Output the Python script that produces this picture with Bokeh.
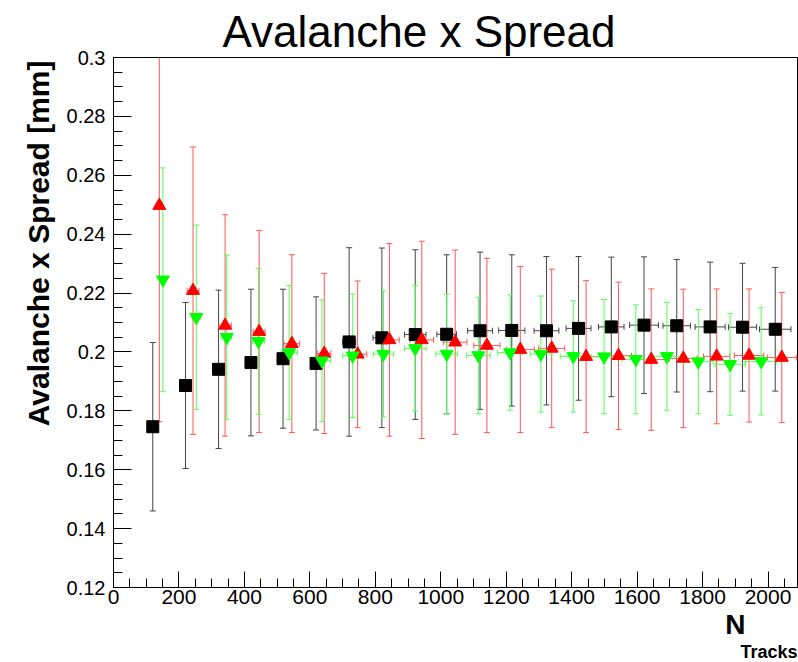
import math
from bokeh.plotting import figure
from bokeh.models import (ColumnDataSource, Whisker, TeeHead, Range1d, Title,
                          SingleIntervalTicker, NumeralTickFormatter)
from bokeh.embed import file_html
from bokeh.resources import INLINE

# ---- data ----
black_x = [120, 220, 321, 420, 518, 619, 720, 820, 922, 1018, 1120, 1217, 1323, 1421, 1521, 1621, 1721, 1823, 1922, 2022]
black_y = [0.1746, 0.1886, 0.1941, 0.1964, 0.1977, 0.1961, 0.2034, 0.2048, 0.2059, 0.2060, 0.2072, 0.2073, 0.2072, 0.2080, 0.2085, 0.2091, 0.2089, 0.2085, 0.2084, 0.2077]
black_ey = [0.0286, 0.0282, 0.0269, 0.0249, 0.0236, 0.0226, 0.0320, 0.0305, 0.0288, 0.0270, 0.0267, 0.0257, 0.0252, 0.0244, 0.0237, 0.0232, 0.0225, 0.0220, 0.0217, 0.0210]
black_ex = [5, 8, 10, 12, 14, 17, 20, 27, 33, 30, 38, 40, 38, 38, 39, 44, 42, 46, 43, 48]

red_x = [140, 243, 341, 445, 545, 644, 746, 843, 942, 1044, 1141, 1243, 1339, 1444, 1543, 1643, 1741, 1843, 1942, 2042]
red_y = [0.2497, 0.2208, 0.2090, 0.2069, 0.2028, 0.1995, 0.1992, 0.2041, 0.2041, 0.2033, 0.2022, 0.2008, 0.2012, 0.1984, 0.1987, 0.1974, 0.1978, 0.1985, 0.1988, 0.1981]
red_ey = [0.0734, 0.0488, 0.0376, 0.0343, 0.0302, 0.0272, 0.0249, 0.0327, 0.0335, 0.0313, 0.0296, 0.0282, 0.0269, 0.0258, 0.0250, 0.0240, 0.0235, 0.0229, 0.0226, 0.0221]
red_ex = [10, 18, 19, 18, 24, 20, 28, 30, 36, 36, 40, 43, 40, 46, 40, 45, 42, 40, 45, 44]

green_x = [151, 253, 346, 443, 537, 637, 731, 825, 922, 1018, 1115, 1212, 1306, 1405, 1499, 1596, 1691, 1787, 1884, 1979]
green_y = [0.2245, 0.2118, 0.2050, 0.2036, 0.1998, 0.1970, 0.1987, 0.1993, 0.2012, 0.1993, 0.1988, 0.1998, 0.1993, 0.1985, 0.1984, 0.1975, 0.1985, 0.1967, 0.1958, 0.1968]
green_ey = [0.0380, 0.0313, 0.0279, 0.0248, 0.0227, 0.0207, 0.0210, 0.0214, 0.0213, 0.0203, 0.0198, 0.0196, 0.0197, 0.0189, 0.0194, 0.0185, 0.0183, 0.0177, 0.0173, 0.0182]
green_ex = [8, 12, 15, 18, 25, 27, 31, 31, 33, 33, 36, 38, 33, 40, 38, 42, 45, 45, 46, 48]

title_text = "Avalanche x Spread"
ylabel_text = "Avalanche x Spread [mm]"
xlabel_main = "N"
xlabel_sub = "Tracks"

X_MIN, X_MAX = 0, 2090
Y_MIN, Y_MAX = 0.12, 0.30
FONT = "Liberation Sans"

p = figure(width=798, height=662, output_backend="svg", toolbar_location=None,
           x_range=Range1d(X_MIN, X_MAX), y_range=Range1d(Y_MIN, Y_MAX),
           min_border_left=113, min_border_right=1, min_border_top=57, min_border_bottom=75)
p.background_fill_color = "white"
p.border_fill_color = "white"
p.outline_line_color = "black"
p.outline_line_width = 1
p.xgrid.visible = False
p.ygrid.visible = False

p.title.text = title_text
p.title.align = "left"
p.title.offset = 109
p.title.text_font = FONT
p.title.text_font_size = "44px"
p.title.text_font_style = "normal"
p.title.text_color = "black"
p.title.standoff = 4

ytitle = Title(text=ylabel_text, align="right", offset=3, text_font=FONT,
               text_font_size="30px", text_font_style="bold", text_color="black",
               standoff=18)
p.add_layout(ytitle, "left")

# x-axis title "N" with subscript "Tracks", right-aligned under the axis
xt_main = Title(text=xlabel_main, align="right", offset=52, text_font=FONT,
                text_font_size="28px", text_font_style="bold", text_color="black",
                standoff=0)
xt_sub = Title(text=xlabel_sub, align="right", offset=0, text_font=FONT,
               text_font_size="18px", text_font_style="bold", text_color="black",
               standoff=0)
p.add_layout(xt_main, "below")
p.add_layout(xt_sub, "below")

p.xaxis.ticker = SingleIntervalTicker(interval=200, num_minor_ticks=4)
p.yaxis.ticker = SingleIntervalTicker(interval=0.02, num_minor_ticks=4)
p.yaxis.formatter = NumeralTickFormatter(format="0.[00]")
for ax in (p.xaxis[0], p.yaxis[0]):
    ax.axis_line_color = "black"
    ax.major_tick_line_color = "black"
    ax.minor_tick_line_color = "black"
    ax.major_tick_out = 0
    ax.minor_tick_out = 0
    ax.major_label_text_font = FONT
    ax.major_label_text_color = "black"
p.xaxis.major_tick_in = 16
p.xaxis.minor_tick_in = 9
p.yaxis.major_tick_in = 18
p.yaxis.minor_tick_in = 9
p.xaxis.major_label_text_font_size = "21px"
p.yaxis.major_label_text_font_size = "20px"
p.xaxis.major_label_standoff = 2
p.yaxis.major_label_standoff = 8


def add_series(xs, ys, exs, eys, color, bar_color, marker, size):
    src = ColumnDataSource(dict(
        x=xs, y=ys,
        lo=[y - e for y, e in zip(ys, eys)], hi=[y + e for y, e in zip(ys, eys)],
        le=[x - e for x, e in zip(xs, exs)], ri=[x + e for x, e in zip(xs, exs)],
    ))
    vw = Whisker(source=src, base="x", lower="lo", upper="hi", dimension="height",
                 line_color=bar_color, line_width=1,
                 upper_head=TeeHead(size=6, line_color=bar_color, line_width=1),
                 lower_head=TeeHead(size=6, line_color=bar_color, line_width=1))
    hw = Whisker(source=src, base="y", lower="le", upper="ri", dimension="width",
                 line_color=bar_color, line_width=1,
                 upper_head=TeeHead(size=6, line_color=bar_color, line_width=1),
                 lower_head=TeeHead(size=6, line_color=bar_color, line_width=1))
    p.add_layout(vw)
    p.add_layout(hw)
    p.scatter("x", "y", source=src, marker=marker, size=size,
              fill_color=color, line_color=color)


add_series(black_x, black_y, black_ex, black_ey, "black", "#444444", "square", 12)
add_series(red_x, red_y, red_ex, red_ey, "#ff0000", "#ff5555", "triangle", 13)
add_series(green_x, green_y, green_ex, green_ey, "#00ff00", "#55ff55", "inverted_triangle", 13)

open("out.html", "w").write(file_html(p, INLINE))
